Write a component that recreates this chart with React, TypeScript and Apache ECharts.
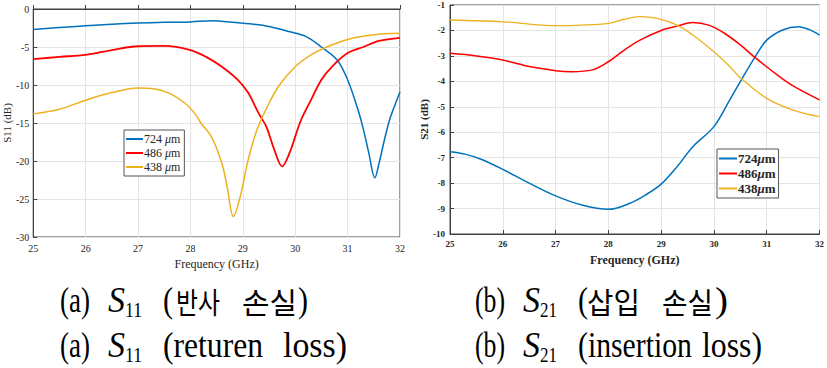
import React, { useEffect, useRef } from "react";
import * as echarts from "echarts";

// S11 (return loss)
const s11BlueX = [25, 25.5, 26, 26.5, 27, 27.5, 28, 28.4, 28.8, 29.2, 29.5, 29.9, 30.2, 30.5, 30.8, 31.0, 31.2, 31.3, 31.4, 31.52, 31.6, 31.7, 31.8, 31.9, 32];
const s11BlueY = [-2.7, -2.45, -2.2, -2.0, -1.85, -1.75, -1.7, -1.55, -1.75, -2.0, -2.3, -3.0, -3.6, -5.0, -6.7, -9.3, -13.3, -15.8, -18.8, -22.2, -20.3, -17.3, -14.6, -12.7, -10.9];
const s11RedX = [25, 25.5, 26, 26.5, 27, 27.5, 28, 28.3, 28.6, 28.9, 29.1, 29.3, 29.45, 29.6, 29.75, 29.9, 30.1, 30.3, 30.5, 30.7, 31, 31.3, 31.6, 32];
const s11RedY = [-6.6, -6.3, -6.05, -5.4, -4.9, -4.85, -5.4, -6.3, -7.6, -9.3, -11, -13.7, -15.5, -18.5, -20.7, -18.8, -14.8, -12, -9.3, -7.6, -5.8, -5.0, -4.2, -3.8];
const s11YellowX = [25, 25.5, 26, 26.5, 27, 27.3, 27.6, 27.9, 28.1, 28.2, 28.4, 28.6, 28.7, 28.82, 28.95, 29.1, 29.27, 29.5, 29.7, 30, 30.3, 30.6, 31, 31.5, 32];
const s11YellowY = [-13.8, -13.2, -12.0, -11.0, -10.4, -10.5, -11.1, -12.4, -13.9, -15.0, -16.8, -20.3, -23.4, -27.3, -24.7, -19.9, -15.9, -12.4, -10, -7.6, -6.05, -5.0, -4.0, -3.4, -3.2];

// S21 (insertion loss)
const s21BlueX = [25, 25.3, 25.6, 26, 26.5, 27, 27.5, 28, 28.4, 28.7, 29, 29.3, 29.6, 30, 30.3, 30.5, 30.8, 31, 31.3, 31.6, 31.8, 32];
const s21BlueY = [-6.77, -6.87, -7.07, -7.46, -8.0, -8.5, -8.86, -9.03, -8.8, -8.47, -8.04, -7.36, -6.57, -5.78, -4.73, -4.01, -2.97, -2.38, -1.98, -1.85, -1.96, -2.18];
const s21RedX = [25, 25.5, 26, 26.5, 27, 27.3, 27.7, 28, 28.3, 28.6, 29, 29.3, 29.6, 29.9, 30.2, 30.5, 30.8, 31.2, 31.5, 32];
const s21RedY = [-2.9, -3.0, -3.16, -3.42, -3.58, -3.62, -3.55, -3.23, -2.77, -2.38, -2.0, -1.83, -1.69, -1.79, -2.11, -2.57, -3.1, -3.75, -4.18, -4.73];
const s21YellowX = [25, 26, 27, 27.5, 28, 28.3, 28.6, 28.9, 29.3, 29.6, 30, 30.3, 30.5, 31, 31.5, 32];
const s21YellowY = [-1.59, -1.66, -1.81, -1.79, -1.72, -1.56, -1.46, -1.52, -1.79, -2.18, -2.84, -3.42, -3.86, -4.67, -5.13, -5.39];

const leftNames = ["724 μm", "486 μm", "438 μm"];
const rightNames = ["724μm", "486μm", "438μm"];
const colors = ["#0072BD", "#FF0000", "#EDB120"];

const xTicks = { min: 25, max: 32, interval: 1 };
const s11Ticks = { min: -30, max: 0, interval: 5 };
const s21Ticks = { min: -10, max: -1, interval: 1 };

// Caption words (text, kind)
const captionRows = [
  [["(a)", "r"], ["S", "i"], ["11", "sub"], ["(", "r"], ["반사", "k"], ["손실", "k"], [")", "r"]],
  [["(a)", "r"], ["S", "i"], ["11", "sub"], ["(returen", "r"], ["loss)", "r"]],
  [["(b)", "r"], ["S", "i"], ["21", "sub"], ["(", "r"], ["삽입", "k"], ["손실", "k"], [")", "r"]],
  [["(b)", "r"], ["S", "i"], ["21", "sub"], ["(insertion", "r"], ["loss)", "r"]],
];
// layout: [x start, x end] per word, baseline per row
const captionSpans = [
  [[60, 90], [108, 125], [125, 142], [163, 173], [176, 220], [242, 297], [298, 308]],
  [[60, 90], [108, 125], [125, 142], [163, 263], [283, 347]],
  [[475, 505], [523, 540], [540, 557], [578, 588], [587, 640], [662, 713], [715, 728]],
  [[475, 505], [523, 540], [540, 557], [578, 692], [702, 762]],
];
const captionBaselines = [312, 357, 312, 357];

const zip = (xs: number[], ys: number[]) => xs.map((x, i) => [x, ys[i]]);

const SERIF = "Liberation Serif";
const KR = "Noto Sans CJK KR";
const FONTS: Record<string, { font: string; size: number; central: number }> = {
  r: { font: `36px ${SERIF}`, size: 36, central: 0.3375 },
  i: { font: `italic 36px ${SERIF}`, size: 36, central: 0.3375 },
  sub: { font: `22px ${SERIF}`, size: 22, central: 0.3375 },
  k: { font: `29px ${KR}`, size: 29, central: 0.38 },
};

export default function App() {
  const ref = useRef<HTMLDivElement>(null);
  useEffect(() => {
    if (!ref.current) return;
    const chart = echarts.init(ref.current, undefined, { renderer: "svg" });
    const ctx = document.createElement("canvas").getContext("2d") as CanvasRenderingContext2D;
    const captionGraphics: any[] = [];
    captionRows.forEach((row, ri) => {
      row.forEach(([text, kind], wi) => {
        const f = FONTS[kind];
        ctx.font = f.font;
        const w = ctx.measureText(text).width || 1;
        const [x1, x2] = captionSpans[ri][wi];
        const base = captionBaselines[ri] + (kind === "sub" ? 4.5 : 0);
        captionGraphics.push({
          type: "text",
          x: x1,
          y: base - f.central * f.size,
          scaleX: (x2 - x1) / w,
          silent: true,
          style: { text, font: f.font, fill: "#000", align: "left", verticalAlign: "middle" },
        });
      });
    });
    const axisCommon = (fs: number, bold = false) => ({
      axisLine: { show: true, lineStyle: { color: "#404040", width: 1 } },
      axisTick: { show: true, inside: true, length: 4, lineStyle: { color: "#404040" } },
      splitLine: { show: true, lineStyle: { color: "#e4e4e4", width: 1 } },
      axisLabel: { color: "#262626", fontFamily: SERIF, fontSize: fs, fontWeight: bold ? "bold" : "normal" },
    });
    const lineSeries = (name: string, data: number[][], color: string, xi: number, w: number) => ({
      type: "line",
      name,
      data,
      xAxisIndex: xi,
      yAxisIndex: xi,
      smooth: 0.35,
      showSymbol: false,
      symbol: "none",
      lineStyle: { color, width: w },
      itemStyle: { color },
    });
    chart.setOption({
      animation: false,
      backgroundColor: "#ffffff",
      textStyle: { fontFamily: SERIF },
      graphic: captionGraphics,
      grid: [
        { left: 32, top: 9, width: 368, height: 228, show: true, borderColor: "#404040", borderWidth: 1, backgroundColor: "#fff" },
        { left: 450, top: 5, width: 372, height: 229, show: true, borderColor: "#404040", borderWidth: 1, backgroundColor: "#fff" },
      ],
      xAxis: [
        {
          type: "value", gridIndex: 0, ...xTicks, ...axisCommon(10),
          name: "Frequency (GHz)", nameLocation: "middle", nameGap: 19,
          nameTextStyle: { fontFamily: SERIF, fontSize: 12, color: "#262626" },
          axisLabel: { ...axisCommon(10).axisLabel, margin: 6 },
        },
        {
          type: "value", gridIndex: 1, ...xTicks, ...axisCommon(9, true),
          name: "Frequency (GHz)", nameLocation: "middle", nameGap: 20,
          nameTextStyle: { fontFamily: SERIF, fontSize: 12, color: "#262626", fontWeight: "bold" },
          axisLabel: { ...axisCommon(9, true).axisLabel, margin: 5 },
        },
      ],
      yAxis: [
        {
          type: "value", gridIndex: 0, ...s11Ticks, ...axisCommon(10),
          name: "S11 (dB)", nameLocation: "middle", nameGap: 21,
          nameTextStyle: { fontFamily: SERIF, fontSize: 11, color: "#262626" },
          axisLabel: { ...axisCommon(10).axisLabel, margin: 4 },
        },
        {
          type: "value", gridIndex: 1, ...s21Ticks, ...axisCommon(9, true),
          name: "S21 (dB)", nameLocation: "middle", nameGap: 21,
          nameTextStyle: { fontFamily: SERIF, fontSize: 11, color: "#262626", fontWeight: "bold" },
          axisLabel: { ...axisCommon(9, true).axisLabel, margin: 5 },
        },
      ],
      legend: [
        {
          data: leftNames,
          orient: "vertical",
          left: 124,
          top: 130,
          width: 60,
          padding: [3, 4, 3, 2],
          itemGap: 2,
          itemWidth: 17,
          itemHeight: 2,
          icon: "rect",
          backgroundColor: "#fff",
          borderColor: "#555",
          borderWidth: 1,
          borderRadius: 0,
          formatter: (n: string) => n.replace("μ", "{i|μ}"),
          textStyle: {
            fontFamily: SERIF, fontSize: 12, color: "#262626", padding: [0, 0, 0, -4],
            rich: { i: { fontFamily: SERIF, fontSize: 12, fontStyle: "italic", color: "#262626" } },
          },
        },
        {
          data: rightNames,
          orient: "vertical",
          left: 717,
          top: 149,
          padding: [3, 3, 3, 2],
          itemGap: 2,
          itemWidth: 18,
          itemHeight: 2,
          icon: "rect",
          backgroundColor: "#fff",
          borderColor: "#555",
          borderWidth: 1,
          borderRadius: 0,
          formatter: (n: string) => n.replace("μ", "{i|μ}"),
          textStyle: {
            fontFamily: SERIF, fontSize: 13, fontWeight: "bold", color: "#262626", padding: [0, 0, 0, -4],
            rich: { i: { fontFamily: SERIF, fontSize: 13, fontStyle: "italic", fontWeight: "bold", color: "#262626" } },
          },
        },
      ],
      series: [
        lineSeries(leftNames[0], zip(s11BlueX, s11BlueY), colors[0], 0, 1.5),
        lineSeries(leftNames[1], zip(s11RedX, s11RedY), colors[1], 0, 1.8),
        lineSeries(leftNames[2], zip(s11YellowX, s11YellowY), colors[2], 0, 1.5),
        lineSeries(rightNames[0], zip(s21BlueX, s21BlueY), colors[0], 1, 1.5),
        lineSeries(rightNames[1], zip(s21RedX, s21RedY), colors[1], 1, 1.5),
        lineSeries(rightNames[2], zip(s21YellowX, s21YellowY), colors[2], 1, 1.3),
      ],
    });
    return () => chart.dispose();
  }, []);
  return <div ref={ref} style={{ width: 827, height: 368, position: "absolute", left: 0, top: 0 }} />;
}
